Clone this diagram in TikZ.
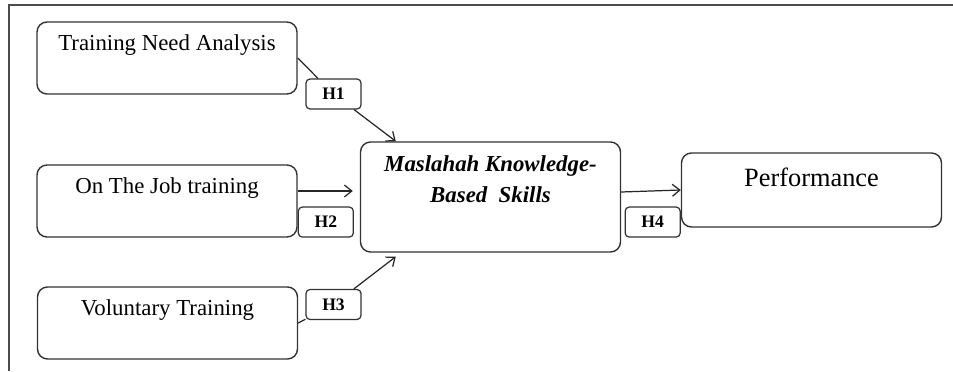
\documentclass[tikz,border=0pt]{standalone}
\usepackage{fontspec}
\setmainfont{Liberation Serif}
\usetikzlibrary{arrows.meta,positioning}

\begin{document}
\begin{tikzpicture}[
  block/.style={draw=black!80, line width=0.8pt, rectangle, rounded corners=2mm, minimum width=52mm, minimum height=14.4mm, align=center, font=\fontsize{13}{18}\selectfont},
  hbox/.style={draw=black!80, line width=0.7pt, rectangle, rounded corners=0.8mm, minimum width=11mm, minimum height=6mm, inner sep=1pt, font=\fontsize{10}{12}\selectfont\bfseries},
  arrow/.style={-{Straight Barb[length=1.5mm,width=2.4mm]}, line width=0.7pt, black!85},
  link/.style={line width=0.7pt, black!85}
]
\useasboundingbox (0,0) rectangle (19.06,7.42);
\draw[black!70, line width=0.7pt] (19.06,7.32) -- (0.18,7.32) -- (0.18,0);

\node[block] (tna) at (3.34,6.26) {Training Need Analysis\\[-6pt] \strut};
\node[block] (ojt) at (3.34,3.40) {On The Job training\\[-6pt] \strut};
\node[block] (vt) at (3.35,0.96) {Voluntary Training\\[-6pt] \strut};
\node[block, minimum height=22mm, font=\fontsize{13}{18}\selectfont\bfseries\itshape] (msk) at (9.81,3.48) {Maslahah Knowledge-\\Based\ \ Skills\\[-3pt] \strut};
\node[block, minimum height=14.8mm, font=\fontsize{15}{20}\selectfont] (perf) at (16.23,3.62) {Performance\\[-12pt] \strut};

\node[hbox] (h1) at (6.67,5.54) {H1};
\node[hbox, anchor=south west] (h2) at (ojt.south east) {H2};
\node[hbox] (h3) at (6.67,1.33) {H3};
\node[hbox, anchor=south east] (h4) at (perf.west |- ojt.south) {H4};

\draw[link] (tna.east) -- (h1);
\draw[arrow] (h1) -- ([xshift=7.2mm]msk.north west);
\draw[arrow, shorten >=1.4mm] ([yshift=2mm]ojt.east) -- ([yshift=2mm]ojt.east -| msk.west);
\draw[link] (vt.east) -- (h3);
\draw[arrow] (h3) -- ([xshift=7.2mm,yshift=-0.8mm]msk.south west);
\draw[arrow] ([yshift=1mm]msk.east) -- (perf.west);
\end{tikzpicture}
\end{document}
